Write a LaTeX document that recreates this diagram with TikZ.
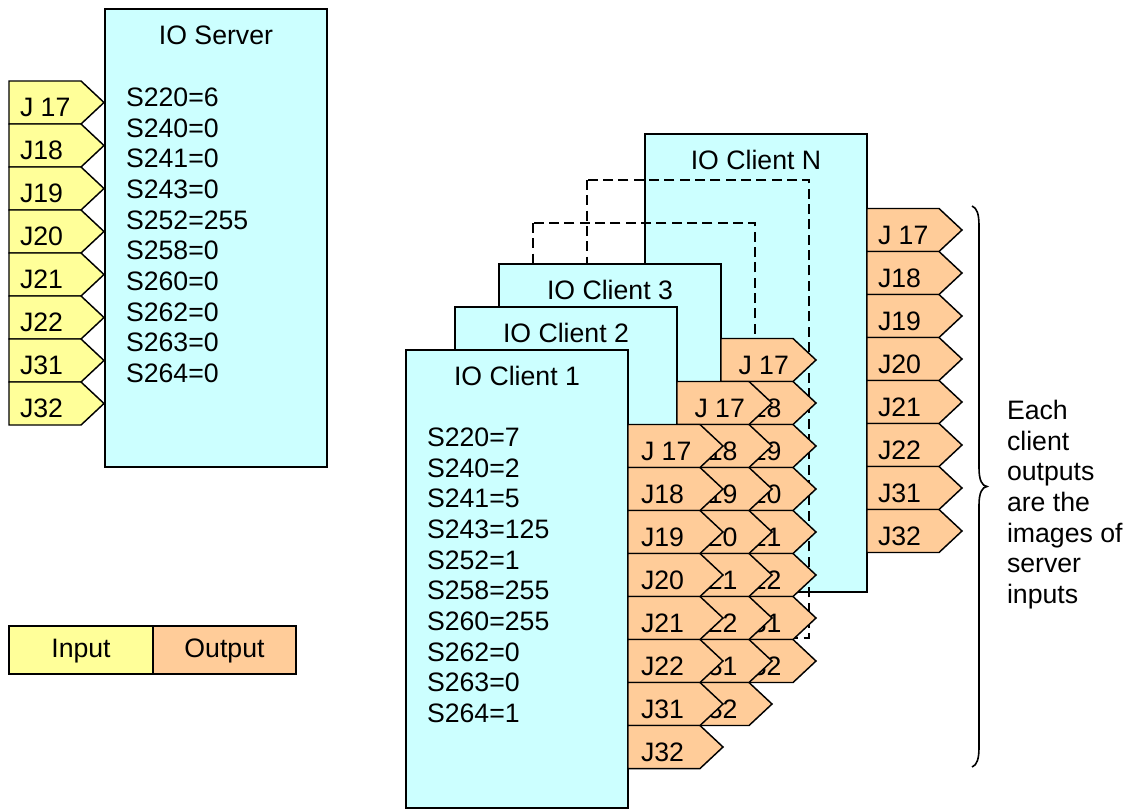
\documentclass[tikz,border=0pt]{standalone}
\usepackage{fontspec}
\setmainfont{Liberation Sans}
\definecolor{cyanbox}{HTML}{CCFFFF}
\definecolor{inyellow}{HTML}{FFFF99}
\definecolor{outorange}{HTML}{FFCC99}
\tikzset{
  every node/.style={font=\fontsize{20}{23}\selectfont, inner sep=0pt, outer sep=0pt},
  boxline/.style={draw=black, line width=1.2pt, fill=cyanbox},
  tagline/.style={draw=black, line width=1.1pt, line join=miter},
  dashline/.style={draw=black, line width=1.1pt, dash pattern=on 7.5pt off 4pt},
}
% name, x, y, fill, label, label offset
\newcommand{\iotag}[6]{%
  \draw[tagline, fill=#4] (#2,#3) -- ++(72,0) -- ++(23,21.5) -- ++(-23,21.5) -- ++(-72,0) -- cycle;
  \node[anchor=base west] (#1) at (#2+#6,#3+35.5) {#5};
}
% name, x, y (top left of box), title, tag label offset
\newcommand{\clientbox}[5]{%
  \draw[boxline] (#2,#3) rectangle ++(222,458);
  \node[anchor=base] (#1title) at (#2+111,#3+35.5) {#4};
  \foreach \lab [count=\i from 0] in {J 17,J18,J19,J20,J21,J22,J31,J32}
    \iotag{#1out\i}{#2+222}{#3+74.5+43*\i}{outorange}{\lab}{#5};
}
\begin{document}
\begin{tikzpicture}[x=0.75pt,y=-0.75pt]
\useasboundingbox (0,0) rectangle (1127,808);

% ---- IO Server ----
\draw[boxline] (105,9) rectangle ++(222,458);
\node[anchor=base] (srvtitle) at (216,44.5) {IO Server};
\foreach \myline [count=\i from 0] in {S220=6,S240=0,S241=0,S243=0,S252=255,S258=0,S260=0,S262=0,S263=0,S264=0}
  \node[anchor=base west] (srv\i) at (126,106.5+30.67*\i) {\myline};
\foreach \lab [count=\i from 0] in {J 17,J18,J19,J20,J21,J22,J31,J32}
  \iotag{srvin\i}{9}{81+43*\i}{inyellow}{\lab}{11};

% ---- legend ----
\draw[tagline, fill=inyellow] (9,626) rectangle (153,674);
\draw[tagline, fill=outorange] (153,626) rectangle (296,674);
\node[anchor=base] (legin) at (81,657.5) {Input};
\node[anchor=base] (legout) at (224.5,657.5) {Output};

% ---- clients, back to front ----
\clientbox{cn}{645}{134}{IO Client N}{11}
\draw[dashline] (587,180) rectangle (809,638);
\draw[dashline] (533,223) rectangle (755,681);
\clientbox{cc}{499}{264}{IO Client 3}{17.5}
\clientbox{cb}{455}{307}{IO Client 2}{17.5}
\clientbox{ca}{406}{350}{IO Client 1}{13}
\foreach \myline [count=\i from 0] in {S220=7,S240=2,S241=5,S243=125,S252=1,S258=255,S260=255,S262=0,S263=0,S264=1}
  \node[anchor=base west] (cl\i) at (427,446.5+30.67*\i) {\myline};

% ---- brace and note ----
\draw[line width=1.2pt] (972,206) .. controls (977,208) and (979,214) .. (979,226)
  -- (979,468) .. controls (979,480) and (982,486) .. (987,486.5)
  .. controls (982,487) and (979,493) .. (979,505)
  -- (979,747) .. controls (979,759) and (977,765) .. (972,767);
\foreach \myline [count=\i from 0] in {Each,client,outputs,are the,images of,server,inputs}
  \node[anchor=base west] (note\i) at (1007,419.5+30.67*\i) {\myline};
\end{tikzpicture}
\end{document}
